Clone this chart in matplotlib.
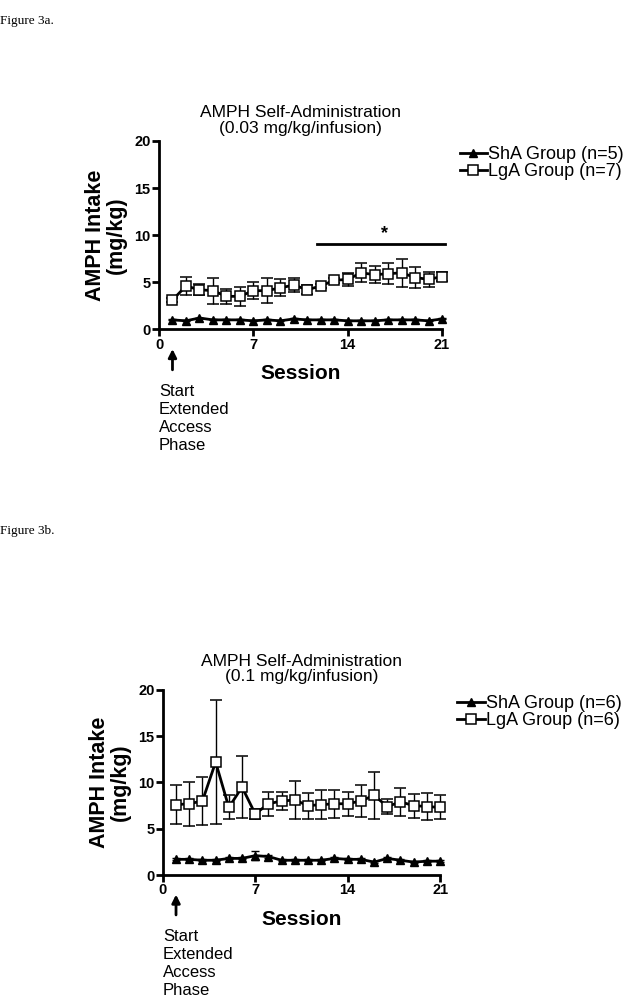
#!/usr/bin/env python3
"""AMPH self-administration, Figure 3a / 3b (ShA vs LgA intake per session)."""

import matplotlib
matplotlib.use("Agg")
import matplotlib.pyplot as plt
from matplotlib.lines import Line2D

plt.rcParams["font.family"] = ["Liberation Sans", "DejaVu Sans"]

sessions = list(range(1, 22))

# --- Figure 3a: 0.03 mg/kg/infusion --------------------------------------
sha_a = [1.0, 0.9, 1.2, 1.0, 1.0, 1.0, 0.9, 1.0, 0.9, 1.1, 1.0,
         1.0, 1.0, 0.9, 0.9, 0.9, 1.0, 1.0, 1.0, 0.9, 1.1]
sha_a_err = [0.05] * 21
lga_a = [3.1, 4.6, 4.2, 4.1, 3.5, 3.5, 4.1, 4.1, 4.4, 4.7, 4.2,
         4.6, 5.2, 5.3, 6.0, 5.8, 5.9, 6.0, 5.5, 5.3, 5.6]
lga_a_err = [0.2, 1.0, 0.6, 1.4, 0.8, 1.0, 0.9, 1.3, 0.9, 0.7, 0.5,
             0.2, 0.3, 0.7, 1.0, 0.9, 1.1, 1.5, 1.1, 0.8, 0.5]

# --- Figure 3b: 0.1 mg/kg/infusion ---------------------------------------
sha_b = [1.7, 1.7, 1.6, 1.6, 1.8, 1.8, 2.1, 2.0, 1.6, 1.6, 1.6,
         1.6, 1.8, 1.7, 1.7, 1.4, 1.8, 1.6, 1.4, 1.5, 1.5]
sha_b_err = [0.1, 0.1, 0.1, 0.1, 0.1, 0.1, 0.5, 0.2, 0.1, 0.1, 0.1,
             0.1, 0.1, 0.1, 0.1, 0.1, 0.1, 0.1, 0.1, 0.1, 0.1]
lga_b = [7.6, 7.7, 8.0, 12.2, 7.3, 9.5, 6.6, 7.7, 8.0, 8.1, 7.5,
         7.6, 7.7, 7.7, 8.0, 8.6, 7.4, 7.9, 7.5, 7.4, 7.3]
lga_b_err = [2.1, 2.4, 2.6, 6.7, 1.3, 3.3, 0.5, 1.3, 1.0, 2.1, 1.4,
             1.6, 1.5, 1.3, 1.7, 2.5, 0.8, 1.5, 1.3, 1.5, 1.3]

x_ticks = [0, 7, 14, 21]
y_ticks = [0, 5, 10, 15, 20]


def draw_panel(ax, sha, sha_err, lga, lga_err, n_sha, n_lga, dose):
    ax.errorbar(sessions, sha, yerr=sha_err, color="black", lw=2,
                marker="^", ms=6, mfc="black", mec="black",
                elinewidth=1, capsize=3, capthick=1,
                clip_on=False, zorder=3)
    ax.errorbar(sessions, lga, yerr=lga_err, color="black", lw=2,
                marker="s", ms=6.5, mfc="white", mec="black", mew=1.1,
                elinewidth=1, capsize=4, capthick=1,
                clip_on=False, zorder=3)
    ax.set_xlim(0, 21)
    ax.set_ylim(0, 20)
    ax.set_xticks(x_ticks)
    ax.set_yticks(y_ticks)
    for side in ("top", "right"):
        ax.spines[side].set_visible(False)
    for side in ("left", "bottom"):
        ax.spines[side].set_linewidth(2)
    ax.tick_params(direction="out", width=2, length=5, labelsize=10.5, pad=1)
    for lab in ax.get_xticklabels() + ax.get_yticklabels():
        lab.set_fontweight("bold")
    ax.set_ylabel("AMPH Intake\n(mg/kg)", fontsize=15.5, fontweight="bold",
                  labelpad=5, linespacing=1.0)
    ax.set_xlabel("Session", fontsize=15, fontweight="bold", labelpad=9)
    ax.set_title(f"AMPH Self-Administration\n({dose} mg/kg/infusion)",
                 fontsize=12.5, pad=6, linespacing=1.05)
    handles = [
        Line2D([], [], color="black", lw=2, marker="^", ms=6,
               mfc="black", mec="black"),
        Line2D([], [], color="black", lw=2, marker="s", ms=6.5,
               mfc="white", mec="black", mew=1.1),
    ]
    labels = [f"ShA Group (n={n_sha})", f"LgA Group (n={n_lga})"]
    ax.legend(handles, labels, loc="upper left",
              bbox_to_anchor=(1.03, 1.02), frameon=False, fontsize=13,
              handlelength=1.5, handletextpad=0.1, labelspacing=0.0,
              borderpad=0)
    # "Start Extended Access Phase" marker under session 1
    ax.annotate("", xy=(1, -0.09), xycoords=("data", "axes fraction"),
                xytext=(1, -0.23), textcoords=("data", "axes fraction"),
                arrowprops=dict(arrowstyle="-|>", color="black", lw=2,
                                mutation_scale=12))
    ax.text(0, -0.29, "Start\nExtended\nAccess\nPhase",
            transform=ax.get_xaxis_transform(), ha="left", va="top",
            fontsize=12, linespacing=1.25)


fig = plt.figure(figsize=(6.36, 10.07), dpi=100)

ax_a = fig.add_axes([0.250, 0.673, 0.445, 0.187])
draw_panel(ax_a, sha_a, sha_a_err, lga_a, lga_a_err, 5, 7, "0.03")
# significance bar over sessions 12-21
ax_a.plot([11.7, 21.2], [9.1, 9.1], color="black", lw=2, clip_on=False)
ax_a.text(16.7, 9.3, "*", ha="center", va="bottom", fontsize=13,
          fontweight="bold")

ax_b = fig.add_axes([0.256, 0.131, 0.436, 0.184])
draw_panel(ax_b, sha_b, sha_b_err, lga_b, lga_b_err, 6, 6, "0.1")

fig.text(0.0, 0.985, "Figure 3a.", family=["Liberation Serif", "DejaVu Serif"],
         fontsize=9.5, ha="left", va="top")
fig.text(0.0, 0.479, "Figure 3b.", family=["Liberation Serif", "DejaVu Serif"],
         fontsize=9.5, ha="left", va="top")

fig.savefig("out.png", dpi=100)
